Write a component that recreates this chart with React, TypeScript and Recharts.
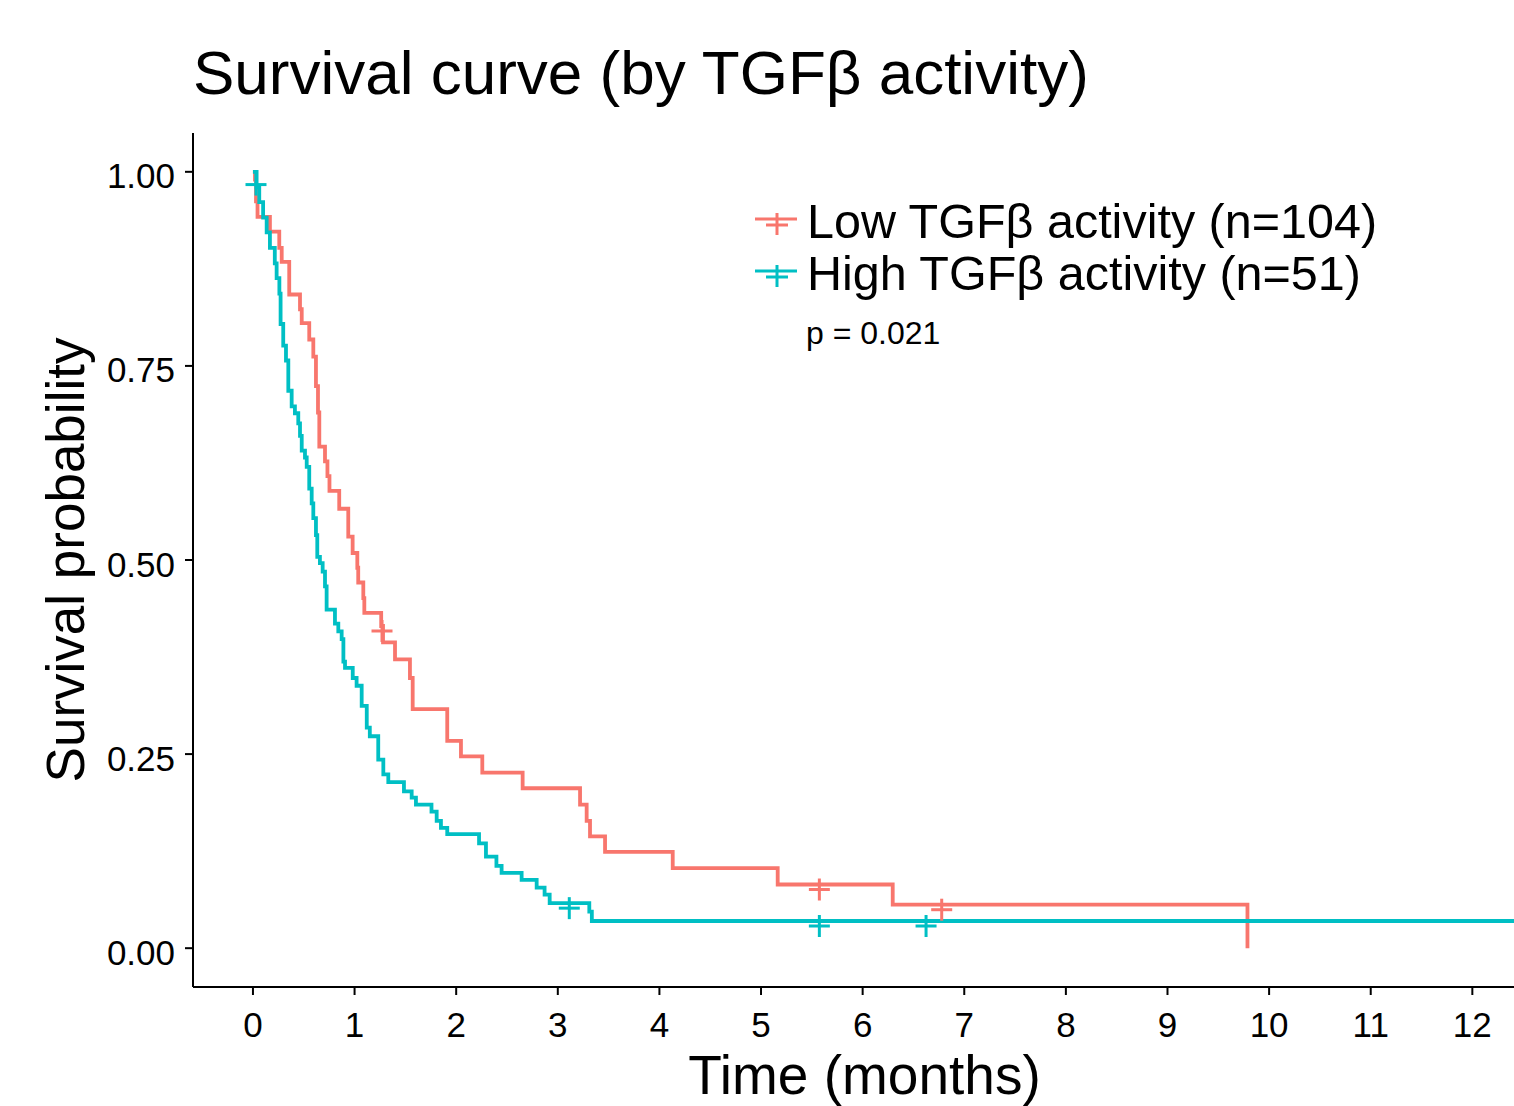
import React from "react";
import {
  ComposedChart, Line, Scatter, XAxis, YAxis, Label, Legend,
} from "recharts";

if (typeof document !== "undefined") document.body.style.margin = "0";

const FONT = '"Liberation Sans", Arial, Helvetica, sans-serif';
const RED = "#F8766D";
const CYAN = "#00BFC4";

// Kaplan-Meier step points (time in months, survival)
const lowTime = [0, 0.02, 0.03, 0.045, 0.167, 0.259, 0.283, 0.357, 0.463, 0.48, 0.554, 0.594, 0.62, 0.64, 0.653, 0.709, 0.733, 0.753, 0.849, 0.938, 0.981, 1.027, 1.036, 1.086, 1.096, 1.262, 1.28, 1.398, 1.545, 1.572, 1.912, 2.047, 2.257, 2.654, 3.219, 3.284, 3.317, 3.465, 4.131, 5.164, 6.296, 9.787];
const lowSurv = [1, 0.99, 0.962, 0.942, 0.923, 0.902, 0.884, 0.842, 0.823, 0.805, 0.784, 0.762, 0.724, 0.69, 0.646, 0.627, 0.608, 0.589, 0.566, 0.53, 0.509, 0.49, 0.471, 0.451, 0.432, 0.415, 0.394, 0.372, 0.348, 0.308, 0.267, 0.247, 0.226, 0.206, 0.185, 0.164, 0.144, 0.124, 0.103, 0.082, 0.056, 0];
const lowCensorTime = [1.27, 5.574, 6.778];
const lowCensorSurv = [0.415, 0.082, 0.056];

const highTime = [0, 0.036, 0.062, 0.1, 0.135, 0.167, 0.215, 0.233, 0.26, 0.272, 0.298, 0.325, 0.348, 0.381, 0.413, 0.446, 0.463, 0.48, 0.512, 0.529, 0.554, 0.578, 0.594, 0.62, 0.633, 0.659, 0.686, 0.709, 0.725, 0.807, 0.84, 0.873, 0.89, 0.906, 0.982, 1.02, 1.07, 1.12, 1.15, 1.233, 1.283, 1.332, 1.486, 1.562, 1.604, 1.757, 1.808, 1.85, 1.912, 2.225, 2.293, 2.396, 2.447, 2.644, 2.792, 2.87, 2.92, 3.31, 3.335, 12.41];
const highSurv = [1, 0.98, 0.961, 0.941, 0.922, 0.902, 0.882, 0.863, 0.843, 0.804, 0.776, 0.757, 0.718, 0.698, 0.689, 0.676, 0.66, 0.641, 0.632, 0.62, 0.592, 0.573, 0.554, 0.532, 0.504, 0.496, 0.485, 0.466, 0.436, 0.418, 0.408, 0.398, 0.369, 0.361, 0.348, 0.338, 0.312, 0.284, 0.273, 0.243, 0.224, 0.214, 0.202, 0.194, 0.185, 0.176, 0.164, 0.155, 0.147, 0.135, 0.118, 0.106, 0.097, 0.088, 0.078, 0.069, 0.058, 0.047, 0.035, 0.035];
const highCensorTime = [0.03, 3.113, 5.574, 6.624];
const highCensorSurv = [0.99, 0.058, 0.035, 0.035];

const seriesNames = ["Low TGFβ activity (n=104)", "High TGFβ activity (n=51)"];
const seriesColors = [RED, CYAN];
const pValueText = "p = 0.021";

const xTicks = [0, 1, 2, 3, 4, 5, 6, 7, 8, 9, 10, 11, 12];
const yTicks = [0, 0.25, 0.5, 0.75, 1];

const toRows = (t: number[], s: number[]) => t.map((v, i) => ({ t: v, s: s[i] }));
const lowCurve = toRows(lowTime, lowSurv);
const highCurve = toRows(highTime, highSurv);
const lowCensor = toRows(lowCensorTime, lowCensorSurv);
const highCensor = toRows(highCensorTime, highCensorSurv);

// "+" censor mark, drawn a little below the line like the original glyph
const crossShape = (color: string) => (props: any) => {
  const { cx, cy } = props;
  if (cx == null || cy == null) return <g />;
  const y = cy + 5;
  return (
    <g stroke={color} strokeWidth={3}>
      <line x1={cx - 10.5} x2={cx + 10.5} y1={y} y2={y} />
      <line x1={cx} x2={cx} y1={y - 11} y2={y + 11} />
    </g>
  );
};

// y tick labels sit a few px below the tick, as in the original
const YTick = (props: any) => {
  const { x, y, payload } = props;
  return (
    <text x={x} y={y + 4} textAnchor="end" dominantBaseline="central" fill="#000" fontSize={35} fontFamily={FONT}>
      {Number(payload.value).toFixed(2)}
    </text>
  );
};

function KmLegend() {
  return (
    <div style={{ fontFamily: FONT, color: "#000" }}>
      {seriesNames.map((name, i) => (
        <div key={name} style={{ display: "flex", alignItems: "center", height: 52 }}>
          <svg width={48} height={40} style={{ display: "block" }}>
            <g stroke={seriesColors[i]} strokeWidth={3}>
              <line x1={2} x2={44} y1={18} y2={18} />
              <line x1={13} x2={35} y1={24} y2={24} />
              <line x1={24} x2={24} y1={12} y2={34} />
            </g>
          </svg>
          <span style={{ fontSize: 48.5, marginLeft: 6, whiteSpace: "nowrap" }}>{name}</span>
        </div>
      ))}
      <div style={{ fontSize: 32, lineHeight: "40px", marginLeft: 53, marginTop: 14 }}>{pValueText}</div>
    </div>
  );
}

export default function App() {
  return (
    <div style={{ position: "relative", width: 1514, height: 1106, background: "#fff", fontFamily: FONT }}>
      <div
        style={{
          position: "absolute", left: 193, top: 42, fontSize: 62, lineHeight: "62px",
          color: "#000", whiteSpace: "nowrap",
        }}
      >
        Survival curve (by TGFβ activity)
      </div>
      <ComposedChart width={1514} height={1106} margin={{ top: 133, right: 0, bottom: 0, left: 0 }}>
        <XAxis
          type="number"
          dataKey="t"
          domain={[-0.59, 12.41]}
          ticks={xTicks}
          interval={0}
          allowDataOverflow
          height={119}
          tickSize={8}
          tickMargin={17}
          axisLine={{ stroke: "#000", strokeWidth: 2 }}
          tickLine={{ stroke: "#000", strokeWidth: 2 }}
          tick={{ fill: "#000", fontSize: 35, fontFamily: FONT }}
        >
          <Label
            value="Time (months)"
            position="center"
            dx={11}
            dy={28}
            style={{ fontSize: 55, fill: "#000", fontFamily: FONT }}
          />
        </XAxis>
        <YAxis
          type="number"
          domain={[-0.05, 1.05]}
          ticks={yTicks}
          interval={0}
          allowDataOverflow
          width={193}
          tickSize={8}
          tickMargin={10}
          axisLine={{ stroke: "#000", strokeWidth: 2 }}
          tickLine={{ stroke: "#000", strokeWidth: 2 }}
          tick={<YTick />}
        >
          <Label
            value="Survival probability"
            position="center"
            angle={-90}
            dx={-31}
            style={{ fontSize: 53, fill: "#000", fontFamily: FONT, textAnchor: "middle" }}
          />
        </YAxis>
        <Line
          data={lowCurve}
          dataKey="s"
          type="stepAfter"
          stroke={RED}
          strokeWidth={3.8}
          dot={false}
          activeDot={false}
          isAnimationActive={false}
          legendType="none"
        />
        <Line
          data={highCurve}
          dataKey="s"
          type="stepAfter"
          stroke={CYAN}
          strokeWidth={3.8}
          dot={false}
          activeDot={false}
          isAnimationActive={false}
          legendType="none"
        />
        <Scatter data={lowCensor} dataKey="s" shape={crossShape(RED)} isAnimationActive={false} legendType="none" />
        <Scatter data={highCensor} dataKey="s" shape={crossShape(CYAN)} isAnimationActive={false} legendType="none" />
        <Legend
          layout="vertical"
          align="center"
          verticalAlign="middle"
          content={() => <KmLegend />}
          wrapperStyle={{ position: "absolute", left: 753, top: 195, width: 720, height: 200 }}
        />
      </ComposedChart>
    </div>
  );
}
